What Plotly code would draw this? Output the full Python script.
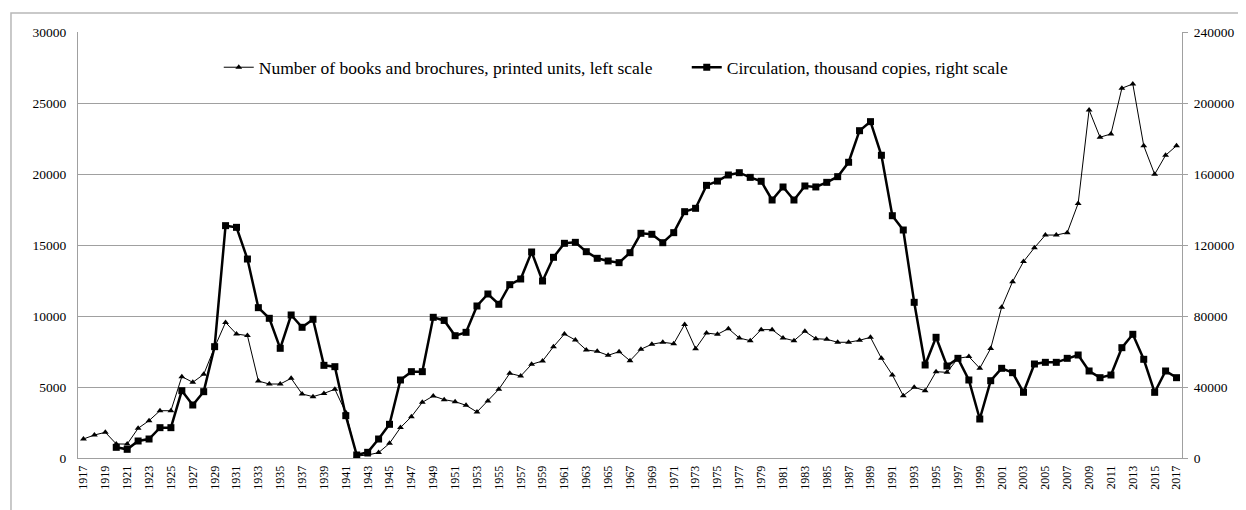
import plotly.graph_objects as go

years = list(range(1917, 2018))

books = [1340, 1620, 1810, 990, 980, 2090, 2630, 3330, 3330, 5730,
         5330, 5890, 7800, 9550, 8730, 8620, 5420, 5210, 5210, 5610,
         4510, 4320, 4550, 4840, 3200, 140, 210, 380, 1030, 2140,
         2910, 3920, 4370, 4110, 3970, 3710, 3240, 4010, 4840, 5960,
         5770, 6600, 6830, 7840, 8730, 8310, 7610, 7510, 7230, 7490,
         6850, 7660, 8010, 8150, 8050, 9410, 7700, 8800, 8710, 9110,
         8450, 8260, 9040, 9040, 8450, 8260, 8920, 8400, 8360, 8150,
         8150, 8290, 8500, 7020, 5850, 4390, 4980, 4740, 6080, 6030,
         7020, 7140, 6320, 7720, 10610, 12420, 13830, 14810, 15700, 15700,
         15870, 17930, 24510, 22590, 22820, 26040, 26340, 21990, 19980, 21320,
         21990]

circulation = [None, None, None, 6010, 4890, 9580, 10700, 17090, 17090, 37930,
               29860, 37370, 62720, 130900, 129950, 112100, 84700, 78700, 61800, 80570,
               73630, 78150, 52200, 51450, 23850, 1690, 3200, 10700, 18980, 43950,
               48640, 48640, 79270, 77500, 68900, 70800, 85640, 92400, 86600, 97650,
               100850, 116060, 99720, 113070, 120950, 121500, 116230, 112500, 110990, 110050,
               115670, 126600, 126030, 121300, 126950, 138780, 140670, 153600, 156000, 159440,
               160740, 158100, 155900, 145350, 152680, 145350, 153250, 152700, 155300, 158500,
               166600, 184400, 189500, 170550, 136500, 128450, 87700, 52400, 68000, 51830,
               56150, 43950, 21970, 43550, 50530, 48070, 37020, 52960, 53900, 53900,
               56150, 58030, 49020, 45250, 46760, 62150, 69690, 55600, 37000, 49020,
               45250]

name_books = "Number of books and brochures, printed units, left scale"
name_circ = "Circulation, thousand copies, right scale"

FONT = "Liberation Serif"
GRID = "#a0a0a0"

fig = go.Figure()
fig.add_trace(go.Scatter(
    x=years, y=books, name=name_books, mode="lines+markers",
    line=dict(color="black", width=1),
    marker=dict(symbol="triangle-up", size=6, color="black"),
    yaxis="y"))
fig.add_trace(go.Scatter(
    x=years, y=circulation, name=name_circ, mode="lines+markers",
    line=dict(color="black", width=2.5),
    marker=dict(symbol="square", size=7, color="black"),
    yaxis="y2"))

fig.update_layout(
    width=1238, height=502,
    margin=dict(l=70, r=64, t=24, b=52),
    paper_bgcolor="white", plot_bgcolor="white",
    font=dict(family=FONT, color="black", size=13),
    showlegend=True,
    legend=dict(orientation="h", x=0.1275, y=0.917, xanchor="left", yanchor="middle",
                font=dict(family=FONT, size=17.5, color="black"),
                bgcolor="rgba(0,0,0,0)", itemwidth=30, traceorder="normal",
                entrywidth=423),
    xaxis=dict(range=[1916.5, 2017.5], tickmode="linear", tick0=1917, dtick=2,
               tickangle=-90, showgrid=False, zeroline=False,
               showline=True, linecolor=GRID, linewidth=1, mirror=False,
               ticks="", ticklabelstandoff=2,
               tickfont=dict(family=FONT, size=12, color="black")),
    yaxis=dict(range=[0, 30000], tickmode="linear", tick0=0, dtick=5000,
               showgrid=True, gridcolor=GRID, gridwidth=1, zeroline=False,
               showline=True, linecolor=GRID, linewidth=1,
               ticks="", ticklen=0, tickformat="d", ticklabelstandoff=8,
               tickfont=dict(family=FONT, size=13.5, color="black")),
    yaxis2=dict(range=[0, 240000], tickmode="linear", tick0=0, dtick=40000,
                overlaying="y", side="right", showgrid=False, zeroline=False,
                showline=True, linecolor=GRID, linewidth=1,
                ticks="outside", ticklen=5, tickcolor=GRID, tickformat="d",
                ticklabelstandoff=3,
                tickfont=dict(family=FONT, size=13.5, color="black")),
    shapes=[dict(type="rect", xref="paper", yref="paper",
                 x0=-0.0607, x1=1.2, y0=-0.3, y1=1.0446,
                 line=dict(color="#b8b8b8", width=1.5), fillcolor="rgba(0,0,0,0)",
                 layer="below")],
)

fig.write_html("out.html")
